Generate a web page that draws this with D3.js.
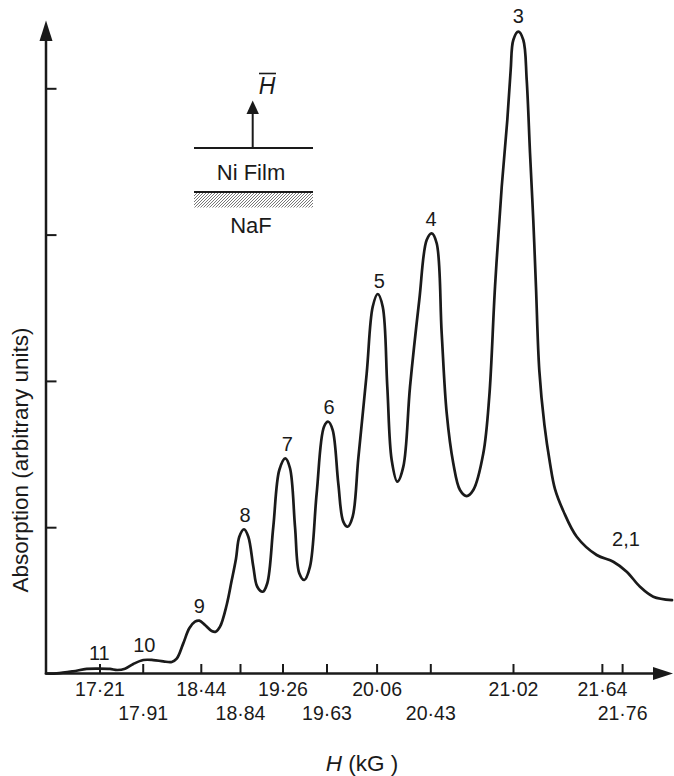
<!DOCTYPE html>
<html><head><meta charset="utf-8">
<script src="https://cdn.jsdelivr.net/npm/d3@7"></script>
<style>
body{margin:0;background:#fff}
svg{display:block}
text{font-family:"Liberation Sans",Arial,Helvetica,sans-serif;fill:#1a1a1a}
</style>
</head><body>
<svg id="c" width="674" height="776"></svg>
<script>
// Sweep position (arbitrary units along the field axis) and absorption (arbitrary units)
const sweep = [0,1.71,4.31,6.50,8.51,10.22,11.39,12.62,13.95,15.54,17.14,18.74,20.08,20.88,21.93,22.89,23.80,24.49,25.40,26.47,27.11,27.80,28.87,29.66,30.35,30.88,31.63,32.32,33.12,33.75,34.62,35.35,36.31,37.27,38.23,38.98,39.78,40.46,41.26,42.17,43.24,44.41,45.10,45.80,46.69,47.49,48.19,48.99,49.89,51.23,52.19,52.99,53.79,54.52,55.22,56.12,57.08,58.15,59.63,60.81,61.61,62.41,63.21,64.01,65.06,66.13,67.20,68.26,69.86,70.81,71.73,72.80,73.69,74.23,74.65,75.45,76.25,76.79,77.32,77.84,78.27,78.80,79.62,80.51,81.31,82.64,84.78,87.97,90.62,92.76,94.89,97.01,100];
const absorption = [0,0.001,0.015,0.031,0.033,0.031,0.024,0.033,0.065,0.092,0.092,0.083,0.079,0.101,0.206,0.309,0.354,0.361,0.332,0.291,0.286,0.320,0.470,0.635,0.785,0.935,0.986,0.935,0.730,0.593,0.559,0.617,1.003,1.391,1.471,1.403,1.003,0.685,0.639,0.730,1.232,1.687,1.721,1.664,1.300,1.038,1.003,1.072,1.471,2.052,2.507,2.594,2.507,1.960,1.459,1.311,1.414,1.960,2.553,2.963,3.009,2.941,2.325,1.779,1.437,1.254,1.213,1.254,1.505,1.892,2.644,3.327,3.783,4.125,4.330,4.387,4.330,4.057,3.556,3.100,2.644,2.074,1.699,1.437,1.260,1.111,0.935,0.810,0.764,0.696,0.593,0.525,0.502];

// Field axis ticks (kG), their sweep positions, and label row
const tickPositions = [8.55,15.45,24.73,30.99,37.78,44.81,52.81,61.39,74.60,88.80,92.03];
const tickLabels = ["17·21","17·91","18·44","18·84","19·26","19·63","20·06","20·43","21·02","21·64","21·76"];
const tickRows = [0,1,0,1,0,1,0,1,0,0,1];
const yTicks = [1,2,3,4];

// Resonance (mode number) labels
const peakLabels = ["11","10","9","8","7","6","5","4","3","2,1"];
const peakLabelX = [8.51,15.70,24.49,31.79,38.55,45.21,53.24,61.50,75.45,92.65];
const peakLabelY = [0.140,0.195,0.463,1.088,1.567,1.820,2.683,3.111,4.494,0.924];

const ink = "#1a1a1a";
const svg = d3.select("#c");
const x = d3.scaleLinear().domain([0,100]).range([46,672]);
const y = d3.scaleLinear().domain([0,4]).range([673.5,88.3]);
const x0 = x(0), y0 = y(0);

// hatch pattern
const defs = svg.append("defs");
const pat = defs.append("pattern").attr("id","hatch").attr("patternUnits","userSpaceOnUse")
  .attr("width",3).attr("height",3);
pat.append("path").attr("d","M-1,1 l2,-2 M0,3 l3,-3 M2,4 l2,-2")
  .attr("stroke","#555").attr("stroke-width",0.8);

// X axis
const gx = svg.append("g").attr("transform",`translate(0,${y0})`)
  .call(d3.axisBottom(x).tickValues(tickPositions).tickSize(-9.5).tickSizeOuter(0)
    .tickFormat((d,i)=>tickLabels[i]));
gx.select(".domain").remove();
gx.selectAll(".tick line").attr("stroke",ink).attr("stroke-width",2);
gx.selectAll(".tick text").attr("dy",null)
  .attr("y",(d,i)=>tickRows[i] ? 46.5 : 22.5)
  .attr("font-size",19.5).attr("font-family",null).attr("fill",ink);

// Y axis
const gy = svg.append("g").attr("transform",`translate(${x0},0)`)
  .call(d3.axisLeft(y).tickValues(yTicks).tickSize(-10.5).tickSizeOuter(0).tickFormat(""));
gy.select(".domain").remove();
gy.selectAll(".tick line").attr("stroke",ink).attr("stroke-width",2);

// axis lines with arrows
svg.append("line").attr("x1",x0).attr("x2",662).attr("y1",y0).attr("y2",y0)
  .attr("stroke",ink).attr("stroke-width",2.5);
svg.append("path").attr("d",`M673,${y0} L653,${y0-6.5} L653,${y0+6.5} Z`).attr("fill",ink);
svg.append("line").attr("x1",x0).attr("x2",x0).attr("y1",y0+1).attr("y2",32)
  .attr("stroke",ink).attr("stroke-width",2.5);
svg.append("path").attr("d",`M${x0},20.5 L${x0-6.5},41 L${x0+6.5},41 Z`).attr("fill",ink);

// curve
const pts = sweep.map((s,i)=>[s,absorption[i]]);
svg.append("path").datum(pts)
  .attr("d",d3.line().x(d=>x(d[0])).y(d=>y(d[1])).curve(d3.curveCatmullRom.alpha(0.5)))
  .attr("fill","none").attr("stroke",ink).attr("stroke-width",2.7)
  .attr("stroke-linejoin","round").attr("stroke-linecap","round");

// peak labels
svg.append("g").selectAll("text").data(peakLabels).join("text")
  .attr("x",(d,i)=>x(peakLabelX[i])).attr("y",(d,i)=>y(peakLabelY[i]))
  .attr("dy","0.36em").attr("text-anchor","middle").attr("font-size",20)
  .text(d=>d);

// axis titles
svg.append("text").attr("transform","translate(28,460) rotate(-90)")
  .attr("text-anchor","middle").attr("font-size",22.5)
  .text("Absorption (arbitrary units)");
const xt = svg.append("text").attr("x",362).attr("y",771).attr("text-anchor","middle").attr("font-size",22.5);
xt.append("tspan").attr("font-style","italic").text("H");
xt.append("tspan").text(" (kG )");

// inset sketch
const ins = svg.append("g");
ins.append("line").attr("x1",194).attr("x2",313).attr("y1",148).attr("y2",148).attr("stroke",ink).attr("stroke-width",2);
ins.append("line").attr("x1",252.7).attr("x2",252.7).attr("y1",148).attr("y2",112).attr("stroke",ink).attr("stroke-width",2);
ins.append("path").attr("d","M252.7,100.5 L246.5,114 L258.9,114 Z").attr("fill",ink);
ins.append("text").attr("x",267).attr("y",94).attr("text-anchor","middle").attr("font-size",23).attr("font-style","italic").text("H");
ins.append("line").attr("x1",259).attr("x2",276).attr("y1",73.5).attr("y2",73.5).attr("stroke",ink).attr("stroke-width",1.6);
ins.append("text").attr("x",251).attr("y",179.5).attr("text-anchor","middle").attr("font-size",22).text("Ni Film");
ins.append("rect").attr("x",194).attr("y",192).attr("width",119).attr("height",15.5).attr("fill","url(#hatch)");
ins.append("line").attr("x1",194).attr("x2",313).attr("y1",192).attr("y2",192).attr("stroke",ink).attr("stroke-width",2);
ins.append("text").attr("x",251).attr("y",233).attr("text-anchor","middle").attr("font-size",22).text("NaF");
</script>
</body></html>
